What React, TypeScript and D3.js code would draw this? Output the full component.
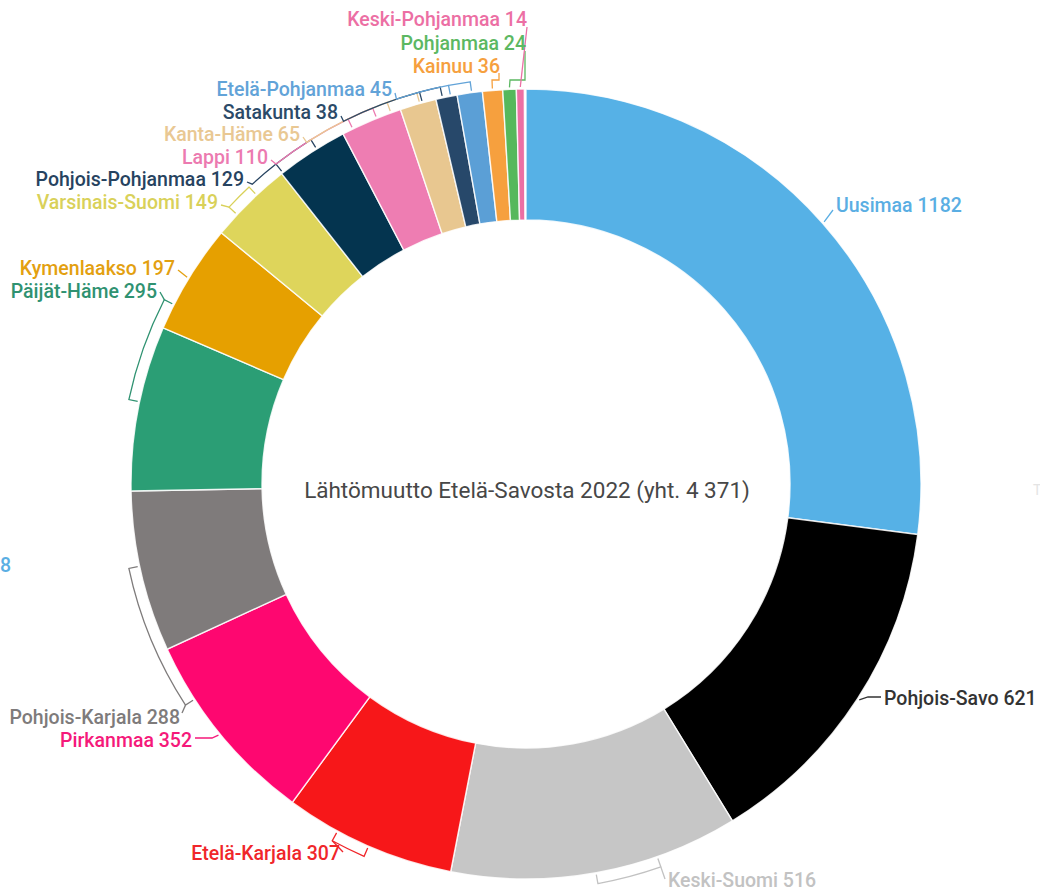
import * as d3 from 'd3'

// Lähtömuutto Etelä-Savosta 2022 – regions in clockwise order from 12 o'clock
const regions = [
  'Uusimaa', 'Pohjois-Savo', 'Keski-Suomi', 'Etelä-Karjala', 'Pirkanmaa',
  'Pohjois-Karjala', 'Päijät-Häme', 'Kymenlaakso', 'Varsinais-Suomi',
  'Pohjois-Pohjanmaa', 'Lappi', 'Kanta-Häme', 'Satakunta', 'Etelä-Pohjanmaa',
  'Kainuu', 'Pohjanmaa', 'Keski-Pohjanmaa',
]
const values = [1182, 621, 516, 307, 352, 288, 295, 197, 149, 129, 110, 65, 38, 45, 36, 24, 14]
const total = 4371
const title = 'Lähtömuutto Etelä-Savosta 2022 (yht. 4 371)'

const sliceColors = [
  '#56b1e6', '#000000', '#c6c6c6', '#f71719', '#fe0770',
  '#7f7b7b', '#2b9e75', '#e6a000', '#ded55b',
  '#04344f', '#ee7db2', '#e8c790', '#27486a', '#5b9fd6',
  '#f6a03e', '#56b85c', '#ec6fa4',
]
const labelColors = [
  '#5aaee3', '#333333', '#c2c2c2', '#f0262a', '#f5197a',
  '#7e7b7b', '#2f9271', '#e3a010', '#d9d159',
  '#274360', '#ec7ab0', '#e9c893', '#2b4a68', '#62a3d8',
  '#f6a03e', '#5cb862', '#ec6fa4',
]

const W = 1040, H = 893
const cx = 526, cy = 484, R = 395, R0 = 264
const RB = R + 11 // bracket radius

type Lead = {
  br?: [number, number] // bracket angles (deg, clockwise from top)
  join?: number // angle where the leader leaves the bracket
  arcTo?: number // leader follows the bracket circle to this angle
  pts: [number, number][]
}
// label placement, index-aligned with regions
const labelPos: { x: number; y: number; anchor: 'start' | 'end'; lead: Lead }[] = [
  { x: 836, y: 205, anchor: 'start', lead: { pts: [[833, 210]] } },
  { x: 884, y: 698, anchor: 'start', lead: { pts: [[868, 697], [881, 697]] } },
  { x: 668, y: 880, anchor: 'start', lead: { br: [160.6, 169.8], join: 160.6, pts: [[665, 879]] } },
  { x: 340, y: 853, anchor: 'end', lead: { br: [203.5, 208.5], join: 208.5, pts: [[343, 852]] } },
  { x: 192, y: 740, anchor: 'end', lead: { pts: [[212, 738], [195, 738]] } },
  { x: 180, y: 717, anchor: 'end', lead: { br: [237, 258], join: 237, pts: [[182, 713]] } },
  { x: 157, y: 291, anchor: 'end', lead: { br: [282, 297], join: 297, pts: [[160, 292]] } },
  { x: 175, y: 268, anchor: 'end', lead: { pts: [[178, 270]] } },
  { x: 218, y: 202, anchor: 'end', lead: { br: [313, 317], join: 313, pts: [[221, 205]] } },
  { x: 244, y: 179, anchor: 'end', lead: { br: [322, 328], join: 322, arcTo: 317.6, pts: [[247, 182]] } },
  { x: 268, y: 157, anchor: 'end', lead: { br: [334, 337.8], join: 334, arcTo: 322, pts: [[271, 160]] } },
  { x: 300, y: 134, anchor: 'end', lead: { br: [340, 344.4], join: 340, arcTo: 327.3, pts: [[303, 137]] } },
  { x: 338, y: 112, anchor: 'end', lead: { br: [344.8, 347.8], join: 344.8, arcTo: 333.3, pts: [[341, 116]] } },
  { x: 392, y: 89, anchor: 'end', lead: { br: [349, 352.1], join: 349, arcTo: 341.4, pts: [[395, 93]] } },
  { x: 500, y: 66, anchor: 'end', lead: { pts: [[492, 80], [499, 80], [499, 73]] } },
  { x: 526, y: 43, anchor: 'end', lead: { pts: [[510, 80], [525, 80], [525, 51]] } },
  { x: 527, y: 19, anchor: 'end', lead: { pts: [[527, 27]] } },
]

const rad = (deg: number) => (deg * Math.PI) / 180
const polar = (deg: number, r: number): [number, number] => [cx + r * Math.sin(rad(deg)), cy - r * Math.cos(rad(deg))]
const scr = (deg: number) => rad(deg - 90) // screen angle for d3.path.arc

export default function App() {
  const pie = d3.pie<number>().sort(null).endAngle((2 * Math.PI * d3.sum(values)) / total)
  const arcs = pie(values)
  const arcGen = d3.arc<d3.PieArcDatum<number>>().innerRadius(R0).outerRadius(R)

  const leaders = arcs.map((a, i) => {
    const { lead } = labelPos[i]
    const p = d3.path()
    const q = d3.path()
    let start: [number, number]
    if (lead.br) {
      const [a0, a1] = lead.br
      const b0 = polar(a0, R + 2), b1 = polar(a1, R + 2)
      q.moveTo(...b0)
      q.lineTo(...polar(a0, RB))
      q.arc(cx, cy, RB, scr(a0), scr(a1), a1 < a0)
      q.lineTo(...b1)
      start = polar(lead.join!, RB)
    } else {
      const mid = ((a.startAngle + a.endAngle) / 2) * (180 / Math.PI)
      start = polar(mid, R + 2)
    }
    p.moveTo(...start)
    if (lead.arcTo !== undefined) {
      p.arc(cx, cy, RB, scr(lead.join!), scr(lead.arcTo), lead.arcTo < lead.join!)
    }
    lead.pts.forEach(pt => p.lineTo(pt[0], pt[1]))
    return { leader: p.toString(), bracket: lead.br ? q.toString() : null }
  })

  return (
    <svg width={W} height={H} viewBox={`0 0 ${W} ${H}`}
      style={{ position: 'absolute', left: 0, top: 0, background: '#fff' }}
      fontFamily="Roboto, 'Noto Sans', sans-serif">
      <g transform={`translate(${cx},${cy})`}>
        {arcs.map((a, i) => (
          <path key={regions[i]} d={arcGen(a) ?? ''} fill={sliceColors[i]}
            stroke="#ffffff" strokeWidth={1.4} strokeOpacity={0.85} />
        ))}
      </g>

      {leaders.map((l, i) => (
        <g key={'l' + i} fill="none" stroke={labelColors[i]} strokeWidth={1.3}>
          {l.bracket && <path d={l.bracket} />}
          <path d={l.leader} />
        </g>
      ))}

      {regions.map((name, i) => (
        <text key={'t' + i} x={labelPos[i].x} y={labelPos[i].y}
          textAnchor={labelPos[i].anchor} dominantBaseline="central"
          fontSize={19.5} fontWeight={500} fill={labelColors[i]}>
          {`${name} ${values[i]}`}
        </text>
      ))}

      <text x={527} y={490} textAnchor="middle" dominantBaseline="central"
        fontSize={22.5} fill="#474747">{title}</text>

      {/* clipped labels of a neighbouring chart at the image edges */}
      <text x={0} y={565} dominantBaseline="central" fontSize={19.5} fontWeight={500} fill="#5aaee3">8</text>
      <text x={1033} y={490} dominantBaseline="central" fontSize={14} fill="#e4e4e4">T</text>
    </svg>
  )
}
